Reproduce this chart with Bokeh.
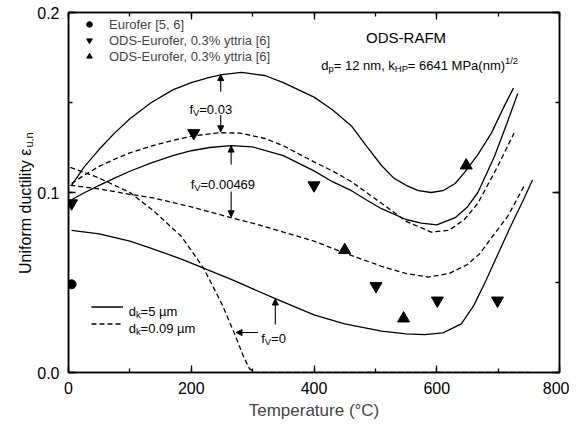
import math
from bokeh.plotting import figure
from bokeh.layouts import row
from bokeh.models import (Range1d, LinearAxis, SingleIntervalTicker, PrintfTickFormatter,
                          CustomJSTickFormatter, Label, Arrow, NormalHead, Legend, LegendItem)
from bokeh.core.properties import value
from bokeh.embed import file_html
from bokeh.resources import INLINE

# ---------------- data ----------------
# model curves, f_V = 0.03, d_k = 5 um (solid)
T_A = [5, 25, 50, 75, 100, 135, 170, 200, 230, 250, 282, 320, 350, 400, 430, 461, 485, 510, 530, 550, 570, 591, 610, 630, 645, 667, 689, 710, 725]
E_A = [0.104, 0.114, 0.124, 0.133, 0.141, 0.150, 0.157, 0.161, 0.164, 0.1655, 0.1667, 0.165, 0.161, 0.153, 0.146, 0.137, 0.126, 0.115, 0.108, 0.104, 0.101, 0.100, 0.101, 0.105, 0.111, 0.121, 0.133, 0.148, 0.158]
# f_V = 0.00469, d_k = 5 um (solid)
T_B = [5, 25, 50, 75, 100, 135, 170, 200, 230, 265, 300, 350, 400, 430, 461, 485, 510, 550, 575, 600, 630, 650, 667, 694, 715, 732]
E_B = [0.096, 0.0997, 0.104, 0.108, 0.1118, 0.1165, 0.1205, 0.1232, 0.125, 0.126, 0.1253, 0.1205, 0.112, 0.106, 0.101, 0.096, 0.091, 0.085, 0.083, 0.082, 0.086, 0.092, 0.100, 0.120, 0.139, 0.155]
# f_V = 0, d_k = 5 um (solid)
T_F = [5, 50, 100, 135, 184, 220, 270, 337, 400, 450, 510, 550, 580, 610, 640, 660, 680, 700, 720, 740, 756]
E_F = [0.079, 0.077, 0.073, 0.069, 0.063, 0.058, 0.051, 0.041, 0.032, 0.027, 0.023, 0.0215, 0.021, 0.022, 0.027, 0.037, 0.051, 0.066, 0.081, 0.095, 0.107]
# f_V = 0.03, d_k = 0.09 um (dashed)
T_C = [5, 25, 50, 75, 100, 135, 170, 204, 246, 280, 320, 350, 400, 430, 461, 510, 550, 591, 620, 645, 667, 700, 726]
E_C = [0.105, 0.1095, 0.1145, 0.1185, 0.122, 0.1258, 0.129, 0.1315, 0.1332, 0.133, 0.130, 0.126, 0.117, 0.112, 0.106, 0.094, 0.084, 0.078, 0.079, 0.085, 0.094, 0.115, 0.133]
# f_V = 0.00469, d_k = 0.09 um (dashed)
T_D = [3, 50, 100, 138, 200, 265, 300, 350, 400, 445, 510, 550, 586, 620, 650, 670, 694, 716, 743]
E_D = [0.104, 0.102, 0.099, 0.097, 0.092, 0.086, 0.083, 0.078, 0.073, 0.067, 0.059, 0.055, 0.053, 0.055, 0.060, 0.066, 0.077, 0.087, 0.104]
# f_V = 0, d_k = 0.09 um (dashed)
T_E = [3, 50, 100, 138, 184, 220, 250, 270, 285, 295, 305, 500, 751]
E_E = [0.114, 0.108, 0.100, 0.090, 0.0756, 0.058, 0.038, 0.022, 0.009, 0.002, 0.0, 0.0, 0.0]

# experimental points
eurofer_T = [5]
eurofer_e = [0.049]
ods_down_T = [5, 204, 400, 501, 601, 699]
ods_down_e = [0.094, 0.133, 0.104, 0.048, 0.040, 0.040]
ods_up_T = [450, 546, 648]
ods_up_e = [0.068, 0.030, 0.115]

FONT = "Liberation Sans"
TOP, FH, BOT = 12, 360, 50
YT_W = 34

p = figure(frame_width=491, frame_height=FH, x_range=Range1d(0, 800), y_range=Range1d(0, 0.2),
           output_backend="svg", toolbar_location=None,
           min_border_left=30, min_border_top=TOP, min_border_right=10, min_border_bottom=BOT)
p.xgrid.visible = False
p.ygrid.visible = False
p.outline_line_color = "black"
p.outline_line_width = 1.5
p.background_fill_color = "white"


def style_axis(ax, show_labels=True):
    ax.axis_line_width = 1.5
    ax.axis_line_color = "black"
    ax.major_tick_in = 7
    ax.major_tick_out = 0
    ax.minor_tick_in = 4
    ax.minor_tick_out = 0
    ax.major_tick_line_width = 1.3
    ax.minor_tick_line_width = 1.3
    ax.major_label_text_font = FONT
    ax.major_label_text_color = "black"
    if show_labels:
        ax.major_label_text_font_size = "16px"
    else:
        ax.formatter = CustomJSTickFormatter(code="return ''")
        ax.major_label_text_font_size = "0px"
        ax.major_label_standoff = 0


p.xaxis.ticker = SingleIntervalTicker(interval=200, num_minor_ticks=2)
p.yaxis.ticker = SingleIntervalTicker(interval=0.1, num_minor_ticks=2)
p.yaxis.formatter = PrintfTickFormatter(format="%.1f")
style_axis(p.xaxis[0])
style_axis(p.yaxis[0])
p.xaxis.major_label_standoff = 9
p.yaxis.major_label_standoff = 9
p.xaxis.axis_label = "Temperature (°C)"
p.xaxis.axis_label_text_font = FONT
p.xaxis.axis_label_text_font_size = "17px"
p.xaxis.axis_label_text_font_style = "normal"
p.xaxis.axis_label_standoff = 4

top = LinearAxis(ticker=SingleIntervalTicker(interval=200, num_minor_ticks=2))
right = LinearAxis(ticker=SingleIntervalTicker(interval=0.1, num_minor_ticks=2))
style_axis(top, False)
style_axis(right, False)
p.add_layout(top, "above")
p.add_layout(right, "right")

LW = 1.3
DASH = "5 3"
rA = p.line(T_A, E_A, line_color="black", line_width=LW)
rB = p.line(T_B, E_B, line_color="black", line_width=LW)
rF = p.line(T_F, E_F, line_color="black", line_width=LW)
rC = p.line(T_C, E_C, line_color="black", line_width=LW, line_dash=DASH)
rD = p.line(T_D, E_D, line_color="black", line_width=LW, line_dash=DASH)
rE = p.line(T_E, E_E, line_color="black", line_width=LW, line_dash=DASH)

s1 = p.scatter(eurofer_T, eurofer_e, marker="circle", size=9, color="black")
s2 = p.scatter(ods_down_T, ods_down_e, marker="inverted_triangle", size=12, color="black")
s3 = p.scatter(ods_up_T, ods_up_e, marker="triangle", size=12, color="black")

leg1 = Legend(items=[LegendItem(label="Eurofer [5, 6]", renderers=[s1]),
                     LegendItem(label="ODS-Eurofer, 0.3% yttria [6]", renderers=[s2]),
                     LegendItem(label="ODS-Eurofer, 0.3% yttria [6]", renderers=[s3])],
              location=(14, 308), padding=0, margin=0, spacing=0,
              glyph_width=14, glyph_height=16, label_height=16, label_standoff=13,
              label_text_font=FONT, label_text_font_size="13px",
              background_fill_alpha=0, border_line_alpha=0)
p.add_layout(leg1, "center")

leg2 = Legend(items=[LegendItem(label=" ", renderers=[rA]),
                     LegendItem(label=" ", renderers=[rC])],
              location=(23, 40), padding=0, margin=0, spacing=0,
              glyph_width=32, glyph_height=17, label_height=17, label_standoff=5,
              label_text_font=FONT, label_text_font_size="13px",
              background_fill_alpha=0, border_line_alpha=0)
p.add_layout(leg2, "center")

# ---------------- text helpers ----------------
W = {'f': 278, 'V': 667, '=': 584, '.': 278, 'd': 556, 'k': 500, 'p': 556, 'µ': 576, 'm': 833,
     ' ': 278, 'n': 556, ',': 278, 'H': 722, 'P': 667, 'M': 833, 'a': 556, '(': 333, ')': 333,
     '/': 278, 'u': 556}


def tw(s, size):
    return sum(W.get(c, 556) for c in s) * size / 1000.0


def rich(x, y, segs, size=13):
    off = 0.0
    for text, kind in segs:
        fs = size * 0.72 if kind else size
        dy = -3 if kind == "sub" else (5 if kind == "sup" else 0)
        p.add_layout(Label(x=x, y=y, x_offset=off, y_offset=dy, text=text,
                           text_font=FONT, text_font_size=f"{fs:.1f}px",
                           text_baseline="alphabetic", text_align="left", text_color="black"))
        off += tw(text, fs)


rich(197, 0.1461, [("f", None), ("V", "sub"), (" =0.03", None)])
rich(199, 0.1044, [("f", None), ("V", "sub"), (" =0.00469", None)])
rich(314, 0.0189, [("f", None), ("V", "sub"), (" =0", None)])
rich(98, 0.0339, [("d", None), ("k", "sub"), ("=5 µm", None)])
rich(98, 0.0242, [("d", None), ("k", "sub"), ("=0.09 µm", None)])
rich(412, 0.1703, [("d", None), ("p", "sub"), ("= 12 nm, k", None), ("HP", "sub"),
                   ("= 6641 MPa(nm)", None), ("1/2", "sup")])
p.add_layout(Label(x=550, y=0.1859, text="ODS-RAFM", text_font=FONT, text_font_size="15px",
                   text_align="center", text_baseline="alphabetic", text_color="black"))


# arrows
def arrow(x0, y0, x1, y1):
    p.add_layout(Arrow(end=NormalHead(size=6, fill_color="black", line_color="black", line_width=1),
                       x_start=x0, y_start=y0, x_end=x1, y_end=y1,
                       line_color="black", line_width=1.1))


arrow(248, 0.156, 248, 0.1655)
arrow(248, 0.143, 248, 0.1337)
arrow(265, 0.1156, 265, 0.1258)
arrow(265, 0.1006, 265, 0.0865)
arrow(309, 0.0222, 273, 0.0222)
arrow(337, 0.0267, 337, 0.0408)

# ---------------- y axis title in a narrow side panel ----------------
py = figure(width=YT_W, height=TOP + FH + BOT, x_range=Range1d(0, YT_W), y_range=Range1d(0, 0.2),
            output_backend="svg", toolbar_location=None,
            min_border_left=0, min_border_right=0, min_border_top=TOP, min_border_bottom=BOT)
py.axis.visible = False
py.xgrid.visible = False
py.ygrid.visible = False
py.outline_line_color = None
py.text(x=[25], y=[0.1244], text=["Uniform ductility ε"], angle=math.pi / 2,
        text_font=value(FONT), text_font_size=value("16px"), text_align="right",
        text_baseline="middle", text_color="black")
py.text(x=[28.5], y=[0.1244], text=["u,n"], angle=math.pi / 2, y_offset=-1,
        text_font=value(FONT), text_font_size=value("11px"), text_align="left",
        text_baseline="middle", text_color="black")

layout = row(py, p)
open("out.html", "w").write(file_html(layout, INLINE))
